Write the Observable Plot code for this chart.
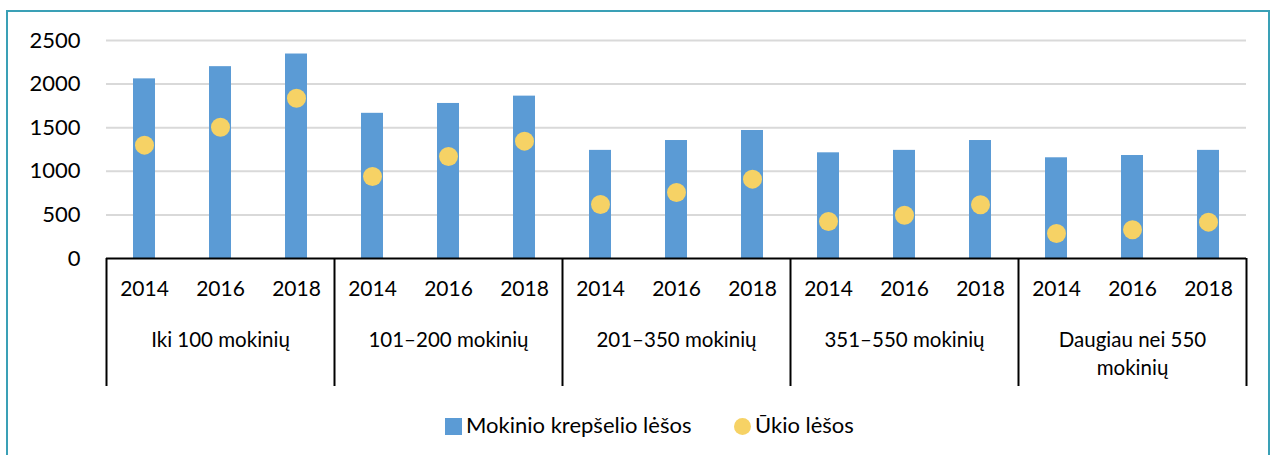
<!DOCTYPE html>
<html>
<head>
<meta charset="utf-8">
<script src="https://cdn.jsdelivr.net/npm/d3@7"></script>
<script src="https://cdn.jsdelivr.net/npm/@observablehq/plot@0.6"></script>
<style>
  html, body { margin: 0; padding: 0; background: #fff; }
  body { width: 1274px; height: 455px; position: relative; overflow: hidden; font-family: Lato, sans-serif; }
  #frame { position: absolute; left: 6px; top: 10px; width: 1264px; height: 460px; border: 2px solid #3AA0B6; box-sizing: border-box; }
  #chart { position: absolute; left: 0; top: 0; }
  #legend { position: absolute; top: 411px; left: 0; width: 1274px; height: 30px; font-size: 22px; color: #000; }
  .sw { position: absolute; top: 7px; }
  .lt { position: absolute; top: 0px; white-space: nowrap; }
</style>
</head>
<body>
<div id="frame"></div>
<div id="chart"></div>
<div id="legend">
  <div class="sw" style="left:445px;width:17px;height:17px;background:#5B9BD5;"></div>
  <div class="lt" style="left:466px;">Mokinio krepšelio lėšos</div>
  <div class="sw" style="left:734px;width:17px;height:17px;border-radius:50%;background:#F6D265;"></div>
  <div class="lt" style="left:755px;">Ūkio lėšos</div>
</div>
<script>
const groups = ["Iki 100 mokinių", "101–200 mokinių", "201–350 mokinių", "351–550 mokinių", "Daugiau nei 550\nmokinių"];
const years = ["2014", "2016", "2018"];
const basketFunds = [
  [2060, 2200, 2345],
  [1665, 1778, 1862],
  [1240, 1353, 1468],
  [1212, 1240, 1353],
  [1155, 1181, 1240]
];
const householdFunds = [
  [1300, 1505, 1838],
  [940, 1170, 1346],
  [620, 757, 910],
  [424, 497, 616],
  [287, 329, 417]
];
const yTicks = [0, 500, 1000, 1500, 2000, 2500];

const data = [];
groups.forEach((g, gi) => years.forEach((yr, yi) => {
  data.push({key: gi + "|" + yr, group: g, year: yr, basket: basketFunds[gi][yi], household: householdFunds[gi][yi]});
}));
const keys = data.map(d => d.key);
const groupRows = groups.map((g, gi) => ({label: g, first: gi + "|" + years[0], mid: gi + "|" + years[1], last: gi + "|" + years[2]}));

const W = 1274, ML = 106, MR = 28;
const step = (W - ML - MR) / keys.length;

const chart = Plot.plot({
  width: W,
  height: 395,
  marginLeft: ML,
  marginRight: MR,
  marginTop: 40,
  marginBottom: 137,
  style: {fontFamily: "Lato, sans-serif", background: "transparent", color: "#000"},
  x: {domain: keys, paddingInner: 0.71, paddingOuter: 0.355, axis: null},
  y: {domain: [0, 2500], axis: null},
  marks: [
    Plot.ruleY(yTicks.filter(d => d > 0), {stroke: "#D9D9D9", strokeWidth: 2}),
    Plot.axisY(yTicks, {tickSize: 0, tickPadding: 26, fontSize: 22, tickFormat: d => String(d), fill: "#000"}),
    Plot.barY(data, {x: "key", y: "basket", fill: "#5B9BD5"}),
    Plot.dot(data, {x: "key", y: "household", r: 9.5, fill: "#F6D265"}),
    Plot.ruleY([0], {stroke: "#000", strokeWidth: 2}),
    Plot.text(data, {x: "key", text: "year", frameAnchor: "bottom", dy: 37, fontSize: 21, fill: "#000"}),
    Plot.text(groupRows, {x: "mid", text: "label", frameAnchor: "bottom", lineAnchor: "top", dy: 68, lineHeight: 1.38, fontSize: 20.5, fill: "#000"}),
    Plot.ruleX(groupRows, {x: "first", dx: -step / 2, stroke: "#000", strokeWidth: 2, insetTop: 218, insetBottom: -128}),
    Plot.ruleX(groupRows.slice(-1), {x: "last", dx: step / 2, stroke: "#000", strokeWidth: 2, insetTop: 218, insetBottom: -128})
  ]
});
document.getElementById("chart").appendChild(chart);
</script>
</body>
</html>
